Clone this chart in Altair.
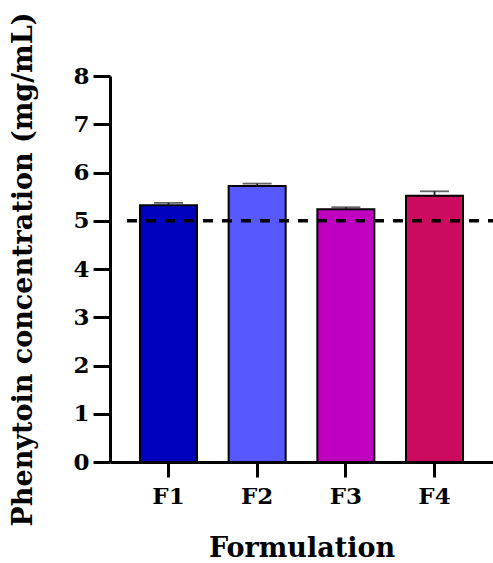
import altair as alt
import pandas as pd

# Formulation means and their error (SD) values
formulations = ["F1", "F2", "F3", "F4"]
concentrations = [5.32, 5.72, 5.24, 5.52]
errors = [0.05, 0.05, 0.04, 0.09]
bar_colors = ["#0000BF", "#5858FF", "#C000C0", "#CC0A5E"]
reference_level = [5.0]

df = pd.DataFrame({
    "Formulation": formulations,
    "conc": concentrations,
    "err": errors,
})
df["upper"] = df["conc"] + df["err"]

FONT = "DejaVu Serif"

x_enc = alt.X(
    "Formulation:N",
    sort=formulations,
    scale=alt.Scale(paddingInner=0.357, paddingOuter=0.338),
    axis=alt.Axis(
        title="Formulation",
        labelAngle=0,
        labelFont=FONT, labelFontSize=23, labelFontWeight="bold", labelColor="black",
        labelPadding=8,
        titleFont=FONT, titleFontSize=27, titleFontWeight="bold", titleColor="black",
        titlePadding=27,
        domainColor="black", domainWidth=3,
        tickColor="black", tickWidth=3, tickSize=15,
    ),
)

y_enc = alt.Y(
    "conc:Q",
    scale=alt.Scale(domain=[0, 8], nice=False),
    axis=alt.Axis(
        title="Phenytoin concentration (mg/mL)",
        values=[0, 1, 2, 3, 4, 5, 6, 7, 8],
        format="d",
        grid=False,
        labelFont=FONT, labelFontSize=23, labelFontWeight="bold", labelColor="black",
        labelPadding=4,
        titleFont=FONT, titleFontSize=27, titleFontWeight="bold", titleColor="black",
        titlePadding=35,
        domainColor="black", domainWidth=3,
        tickColor="black", tickWidth=3, tickSize=17,
    ),
)

bars = alt.Chart(df).mark_bar(stroke="black", strokeWidth=2).encode(
    x=x_enc,
    y=y_enc,
    color=alt.Color(
        "Formulation:N",
        scale=alt.Scale(domain=formulations, range=bar_colors),
        legend=None,
    ),
)

stems = alt.Chart(df).mark_rule(color="#222222", strokeWidth=1.8).encode(
    x=alt.X("Formulation:N", sort=formulations),
    y="conc:Q",
    y2="upper:Q",
)

caps = alt.Chart(df).mark_tick(color="#222222", thickness=1.8, size=29).encode(
    x=alt.X("Formulation:N", sort=formulations),
    y="upper:Q",
)

ref_df = pd.DataFrame({"level": reference_level})
ref_line = alt.Chart(ref_df).mark_rule(
    color="black", strokeWidth=3.5, strokeDash=[10, 9]
).encode(
    y="level:Q",
    x=alt.value(17),
    x2=alt.value(386),
)

chart = (
    alt.layer(bars, stems, caps, ref_line)
    .properties(
        width=383,
        height=386,
        autosize=alt.AutoSizeParams(type="none"),
        padding={"left": 110, "top": 76, "right": 0, "bottom": 101},
        background="white",
    )
    .configure_view(stroke=None)
)

chart.save("out.html", embed_options={"renderer": "svg", "actions": False})
